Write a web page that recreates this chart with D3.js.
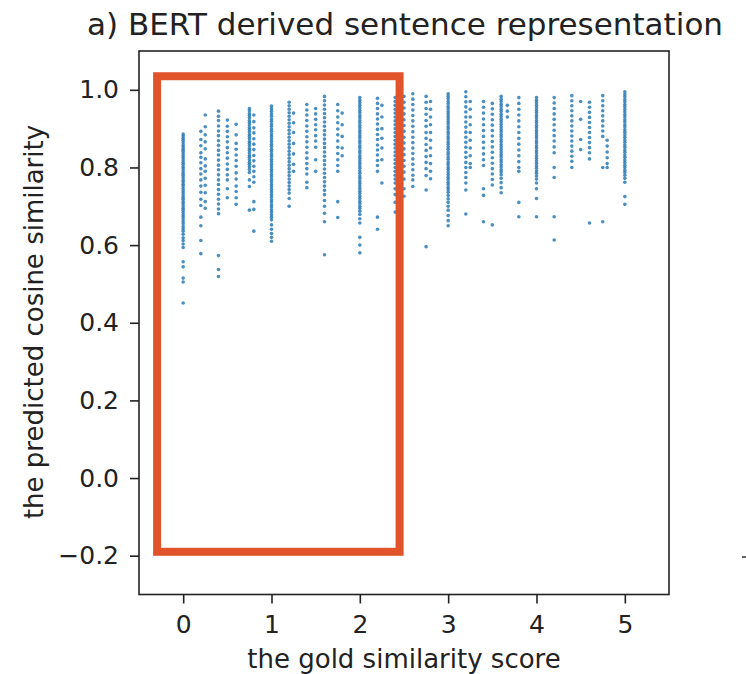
<!DOCTYPE html>
<html>
<head>
<meta charset="utf-8">
<script src="https://cdn.jsdelivr.net/npm/d3@7/dist/d3.min.js"></script>
<style>
  html, body { margin: 0; padding: 0; background: #fff; }
  svg { display: block; }
  text { font-family: "DejaVu Sans", sans-serif; fill: #222; }
</style>
</head>
<body>
<svg id="chart" width="746" height="674"></svg>
<script>
// ---- data ----
const titleText = "a) BERT derived sentence representation";
const xLabel = "the gold similarity score";
const yLabel = "the predicted cosine similarity";
const xTicks = [0, 1, 2, 3, 4, 5];
const yTicks = [-0.2, 0.0, 0.2, 0.4, 0.6, 0.8, 1.0];

const goldScores = [0, 0.2, 0.25, 0.4, 0.5, 0.6, 0.75, 0.8, 1.0, 1.2, 1.25, 1.4, 1.5, 1.6, 1.75, 1.8,
  2.0, 2.2, 2.25, 2.4, 2.5, 2.6, 2.75, 2.8, 3.0, 3.2, 3.25, 3.4, 3.5, 3.6, 3.67, 3.8, 4.0, 4.2, 4.4, 4.5,
  4.6, 4.75, 4.8, 5.0];

const predictedCosine = [
  [0.886,0.881,0.875,0.870,0.864,0.858,0.853,0.847,0.842,0.836,0.830,0.825,0.819,0.813,0.808,0.802,0.797,0.791,0.785,0.780,0.774,0.768,0.763,0.757,0.752,0.746,0.740,0.735,0.729,0.723,0.718,0.712,0.707,0.701,0.695,0.690,0.684,0.678,0.673,0.667,0.661,0.655,0.648,0.642,0.636,0.628,0.619,0.612,0.603,0.594,0.557,0.544,0.515,0.505,0.451],
  [0.893,0.872,0.856,0.838,0.826,0.812,0.797,0.783,0.768,0.752,0.736,0.718,0.702,0.672,0.650,0.612,0.578],
  [0.935,0.905,0.884,0.866,0.848,0.822,0.804,0.790,0.772,0.754,0.735,0.712,0.695],
  [0.945,0.932,0.921,0.907,0.894,0.882,0.869,0.857,0.844,0.832,0.819,0.806,0.794,0.781,0.768,0.756,0.743,0.731,0.718,0.706,0.693,0.681,0.573,0.537,0.519],
  [0.922,0.906,0.893,0.879,0.866,0.851,0.838,0.824,0.809,0.795,0.781,0.768,0.745,0.722],
  [0.911,0.884,0.862,0.847,0.832,0.818,0.803,0.786,0.770,0.752,0.738,0.722,0.705],
  [0.952,0.946,0.939,0.934,0.928,0.921,0.916,0.910,0.903,0.898,0.892,0.885,0.880,0.874,0.867,0.862,0.856,0.849,0.844,0.838,0.831,0.826,0.820,0.813,0.808,0.802,0.795,0.787,0.768,0.751,0.690],
  [0.935,0.918,0.902,0.889,0.874,0.860,0.846,0.831,0.817,0.803,0.790,0.776,0.762,0.712,0.692,0.636],
  [0.958,0.951,0.945,0.938,0.932,0.925,0.919,0.912,0.906,0.899,0.893,0.886,0.880,0.873,0.867,0.860,0.854,0.847,0.841,0.834,0.828,0.821,0.815,0.808,0.802,0.795,0.789,0.782,0.776,0.769,0.763,0.756,0.750,0.743,0.737,0.730,0.724,0.717,0.711,0.704,0.698,0.691,0.685,0.678,0.672,0.665,0.652,0.641,0.630,0.620,0.610],
  [0.968,0.959,0.950,0.941,0.932,0.923,0.914,0.905,0.896,0.887,0.878,0.869,0.860,0.851,0.842,0.833,0.824,0.815,0.806,0.797,0.788,0.779,0.770,0.761,0.752,0.743,0.734,0.720,0.700],
  [0.940,0.915,0.890,0.862,0.835,0.808,0.790],
  [0.962,0.948,0.935,0.921,0.907,0.893,0.879,0.866,0.852,0.838,0.824,0.810,0.797,0.783,0.762,0.748],
  [0.952,0.938,0.924,0.910,0.897,0.882,0.868,0.852,0.820,0.790],
  [0.983,0.972,0.961,0.950,0.939,0.928,0.917,0.906,0.895,0.884,0.873,0.862,0.851,0.840,0.829,0.818,0.807,0.796,0.785,0.774,0.763,0.752,0.741,0.730,0.715,0.700,0.682,0.660,0.575],
  [0.962,0.946,0.930,0.915,0.899,0.884,0.868,0.852,0.836,0.820,0.805,0.790,0.712,0.671],
  [0.940,0.910,0.880,0.850,0.830],
  [0.980,0.973,0.967,0.960,0.954,0.947,0.941,0.934,0.928,0.921,0.915,0.908,0.902,0.895,0.889,0.882,0.876,0.869,0.863,0.856,0.850,0.843,0.837,0.830,0.824,0.817,0.811,0.804,0.798,0.791,0.785,0.778,0.772,0.765,0.759,0.752,0.746,0.739,0.733,0.726,0.720,0.713,0.707,0.700,0.694,0.687,0.679,0.668,0.657,0.620,0.600,0.580],
  [0.978,0.965,0.952,0.938,0.925,0.912,0.898,0.885,0.872,0.858,0.845,0.832,0.818,0.805,0.790,0.672,0.641],
  [0.960,0.930,0.900,0.875,0.850,0.820,0.760],
  [0.980,0.970,0.960,0.950,0.940,0.930,0.920,0.910,0.900,0.890,0.880,0.870,0.860,0.850,0.840,0.830,0.820,0.810,0.800,0.790,0.780,0.770,0.760,0.745,0.730,0.710,0.685],
  [0.983,0.968,0.953,0.938,0.923,0.908,0.893,0.878,0.863,0.848,0.833,0.818,0.803,0.788,0.770,0.745,0.726],
  [0.990,0.976,0.962,0.948,0.934,0.920,0.906,0.892,0.878,0.864,0.850,0.836,0.822,0.808,0.794,0.780,0.768,0.751],
  [0.983,0.968,0.952,0.937,0.921,0.906,0.890,0.875,0.859,0.844,0.828,0.813,0.797,0.779,0.742,0.596],
  [0.970,0.950,0.930,0.910,0.890,0.870,0.850,0.830,0.810,0.790,0.771],
  [0.990,0.983,0.977,0.970,0.964,0.957,0.951,0.944,0.938,0.931,0.925,0.918,0.912,0.905,0.899,0.892,0.886,0.879,0.873,0.866,0.860,0.853,0.847,0.840,0.834,0.827,0.821,0.814,0.808,0.801,0.795,0.788,0.782,0.775,0.769,0.762,0.756,0.749,0.743,0.736,0.728,0.719,0.710,0.700,0.690,0.676,0.663,0.650],
  [0.995,0.982,0.969,0.956,0.943,0.930,0.917,0.904,0.891,0.878,0.865,0.852,0.839,0.826,0.813,0.800,0.787,0.774,0.760,0.742,0.680],
  [0.970,0.950,0.930,0.910,0.890,0.870,0.850,0.830,0.810,0.800],
  [0.970,0.955,0.940,0.925,0.910,0.895,0.880,0.865,0.850,0.835,0.820,0.805,0.745,0.728,0.660],
  [0.965,0.951,0.937,0.923,0.909,0.895,0.881,0.867,0.853,0.839,0.825,0.811,0.797,0.783,0.769,0.755,0.652],
  [0.983,0.976,0.970,0.963,0.957,0.950,0.944,0.937,0.931,0.924,0.918,0.911,0.905,0.898,0.892,0.885,0.879,0.872,0.866,0.859,0.853,0.846,0.840,0.833,0.827,0.820,0.814,0.807,0.801,0.794,0.788,0.781,0.772,0.761,0.748,0.735],
  [0.960,0.945,0.930],
  [0.980,0.965,0.950,0.935,0.920,0.905,0.890,0.875,0.860,0.845,0.830,0.815,0.800,0.790,0.710,0.673],
  [0.980,0.973,0.967,0.960,0.954,0.947,0.941,0.934,0.928,0.921,0.915,0.908,0.902,0.895,0.889,0.882,0.876,0.869,0.863,0.856,0.850,0.843,0.837,0.830,0.824,0.817,0.811,0.804,0.798,0.791,0.785,0.778,0.770,0.760,0.745,0.720,0.673],
  [0.980,0.966,0.952,0.938,0.924,0.910,0.896,0.882,0.868,0.853,0.838,0.800,0.774,0.673,0.613],
  [0.985,0.972,0.959,0.946,0.933,0.920,0.907,0.894,0.881,0.868,0.855,0.842,0.829,0.816,0.800],
  [0.970,0.924,0.872,0.846],
  [0.968,0.955,0.942,0.929,0.916,0.903,0.890,0.877,0.864,0.851,0.838,0.822,0.657],
  [0.985,0.972,0.959,0.946,0.933,0.920,0.907,0.894,0.880,0.800,0.660],
  [0.870,0.855,0.840,0.825,0.810,0.800],
  [0.995,0.988,0.982,0.975,0.969,0.962,0.956,0.949,0.943,0.936,0.930,0.923,0.917,0.910,0.904,0.897,0.891,0.884,0.878,0.871,0.865,0.858,0.852,0.845,0.839,0.832,0.826,0.819,0.813,0.806,0.800,0.793,0.787,0.780,0.772,0.762,0.725,0.705]
];

// highlight box (data coordinates of the annotation rectangle)
const highlightX = [-0.295, 2.45];
const highlightY = [-0.19, 1.035];

// ---- drawing ----
const svg = d3.select("#chart");
const x = d3.scaleLinear().domain([-0.5, 5.5]).range([139, 669]);
const y = d3.scaleLinear().domain([-0.3, 1.1]).range([594.5, 51]);

const points = [];
goldScores.forEach((g, i) => predictedCosine[i].forEach(v => points.push({g, v})));

svg.append("g").selectAll("circle").data(points).join("circle")
  .attr("cx", d => x(d.g))
  .attr("cy", d => y(d.v))
  .attr("r", 1.8)
  .attr("fill", "#2c7bb6")
  .attr("fill-opacity", 0.85);

// axes
const xAxis = svg.append("g").attr("transform", "translate(0,594.5)")
  .call(d3.axisBottom(x).tickValues(xTicks).tickFormat(d3.format("d")).tickSize(9).tickPadding(12).tickSizeOuter(0));
const yAxis = svg.append("g").attr("transform", "translate(139,0)")
  .call(d3.axisLeft(y).tickValues(yTicks).tickFormat(d3.format(".1f")).tickSize(9).tickPadding(11).tickSizeOuter(0));
[xAxis, yAxis].forEach(a => {
  a.select(".domain").remove();
  a.selectAll(".tick line").attr("stroke", "#222").attr("stroke-width", 1.6);
  a.selectAll(".tick text").attr("font-family", "DejaVu Sans").attr("font-size", 25).attr("fill", "#222");
});

// frame
svg.append("rect")
  .attr("x", x(-0.5)).attr("y", y(1.1))
  .attr("width", x(5.5) - x(-0.5)).attr("height", y(-0.3) - y(1.1))
  .attr("fill", "none").attr("stroke", "#222").attr("stroke-width", 1.6);

// highlight rectangle
svg.append("rect")
  .attr("x", x(highlightX[0])).attr("y", y(highlightY[1]))
  .attr("width", x(highlightX[1]) - x(highlightX[0]))
  .attr("height", y(highlightY[0]) - y(highlightY[1]))
  .attr("fill", "none").attr("stroke", "#e0532b").attr("stroke-width", 8);

// texts
svg.append("text").attr("x", 405).attr("y", 35).attr("text-anchor", "middle")
  .attr("font-size", 31).text(titleText);
svg.append("text").attr("x", 404).attr("y", 668).attr("text-anchor", "middle")
  .attr("font-size", 26).text(xLabel);
svg.append("text").attr("transform", "translate(43,322) rotate(-90)").attr("text-anchor", "middle")
  .attr("font-size", 26).text(yLabel);

// stray tick mark from the neighbouring panel at the right edge
svg.append("line").attr("x1", 742).attr("x2", 746).attr("y1", 557).attr("y2", 557)
  .attr("stroke", "#333").attr("stroke-width", 1.5);
</script>
</body>
</html>
